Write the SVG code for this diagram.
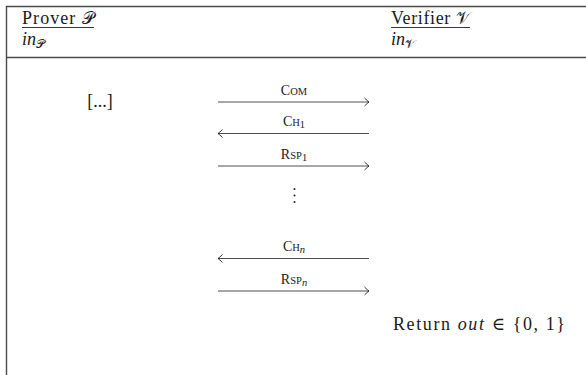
<svg xmlns="http://www.w3.org/2000/svg" width="586" height="375" viewBox="0 0 586 375">
<style>
text{font-family:"Liberation Serif","DejaVu Serif",serif;fill:#1a1a1a}
.t{font-size:18px}
.i{font-style:italic}
.cal{font-size:17px}
.lbl{font-size:14px;text-anchor:middle}
.sc{font-size:10.5px}
.frame{stroke:#4a4a4a;stroke-width:1.4;fill:none}
.arr{stroke:#3a3a3a;stroke-width:0.9;fill:none}
.ul{stroke:#222;stroke-width:0.9}
</style>
<defs>
<marker id="ah" markerWidth="10" markerHeight="10" refX="0" refY="0" viewBox="-6 -5 8 10" orient="auto" markerUnits="userSpaceOnUse">
<path d="M-4.5,-4 Q-1.5,-1 0,0 Q-1.5,1 -4.5,4" fill="none" stroke="#222" stroke-width="0.9"/>
</marker>
</defs>
<g id="frame">
<path class="frame" d="M586,6.5 H6.5 V375"/>
<path class="frame" d="M6.5,57.5 H586"/>
</g>
<g id="prover">
<text class="t" x="22" y="24" textLength="72">Prover <tspan class="cal">𝒫</tspan></text>
<line class="ul" x1="22" y1="27.5" x2="94" y2="27.5"/>
<text class="t" x="22" y="45"><tspan class="i">in</tspan><tspan font-size="12" dy="3">𝒫</tspan></text>
<text class="t" x="100" y="107" text-anchor="middle">[...]</text>
</g>
<g id="verifier">
<text class="t" x="391" y="24" textLength="79">Verifier <tspan class="cal">𝒱</tspan></text>
<line class="ul" x1="391" y1="27.5" x2="470" y2="27.5"/>
<text class="t" x="391" y="45"><tspan class="i">in</tspan><tspan font-size="12" dy="3">𝒱</tspan></text>
<text class="t" x="393" y="330" textLength="172">Return <tspan class="i">out</tspan> ∈ {0, 1}</text>
</g>
<g id="connectors">
<line class="arr" x1="218" y1="102" x2="369" y2="102" marker-end="url(#ah)"/>
<line class="arr" x1="369" y1="133.5" x2="218" y2="133.5" marker-end="url(#ah)"/>
<line class="arr" x1="218" y1="166" x2="369" y2="166" marker-end="url(#ah)"/>
<line class="arr" x1="369" y1="258.5" x2="218" y2="258.5" marker-end="url(#ah)"/>
<line class="arr" x1="218" y1="291" x2="369" y2="291" marker-end="url(#ah)"/>
</g>
<g id="labels">
<text class="lbl" x="294" y="95">C<tspan class="sc">OM</tspan></text>
<text class="lbl" x="294" y="126">C<tspan class="sc">H</tspan><tspan font-size="10.5" dy="2">1</tspan></text>
<text class="lbl" x="294" y="159">R<tspan class="sc">SP</tspan><tspan font-size="10.5" dy="2">1</tspan></text>
<text class="lbl" x="294" y="251">C<tspan class="sc">H</tspan><tspan font-size="10.5" font-style="italic" dy="2">n</tspan></text>
<text class="lbl" x="294" y="284">R<tspan class="sc">SP</tspan><tspan font-size="10.5" font-style="italic" dy="2">n</tspan></text>
</g>
<g id="vdots" fill="#222">
<circle cx="294.5" cy="189" r="1"/>
<circle cx="294.5" cy="195.5" r="1"/>
<circle cx="294.5" cy="202" r="1"/>
</g>
</svg>
